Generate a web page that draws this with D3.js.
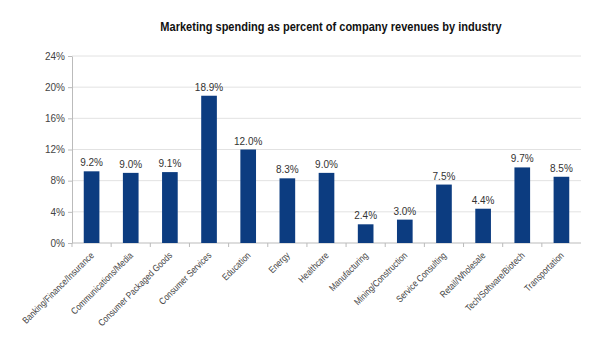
<!DOCTYPE html>
<html>
<head>
<meta charset="utf-8">
<script src="https://cdn.jsdelivr.net/npm/d3@7"></script>
<style>
  body { margin: 0; background: #fff; }
  text { font-family: "Liberation Sans", Arial, sans-serif; }
  .title { font-size: 12px; font-weight: bold; fill: #111; }
  .axis text { font-size: 10px; fill: #444; }
  .axis path, .axis line { stroke: #bbb; }
  .valLb { font-size: 10px; fill: #333; text-anchor: middle; }
</style>
</head>
<body>
<div id="main"></div>
<script>
var industries = ["Banking/Finance/Insurance", "Communications/Media", "Consumer Packaged Goods",
    "Consumer Services", "Education", "Energy", "Healthcare", "Manufacturing",
    "Mining/Construction", "Service Consulting", "Retail/Wholesale",
    "Tech/Software/Biotech", "Transportation"];
var spending = [9.2, 9.0, 9.1, 18.9, 12.0, 8.3, 9.0, 2.4, 3.0, 7.5, 4.4, 9.7, 8.5];
var yTicks = [0, 4, 8, 12, 16, 20, 24];

var ctx = {w: 600, h: 337, left: 72, right: 581, top: 56, bottom: 243};

var svgEl = d3.select("#main").append("svg")
    .attr("width", ctx.w)
    .attr("height", ctx.h);

var xScale = d3.scaleBand().domain(industries)
    .range([ctx.left, ctx.right])
    .paddingInner(0.6).paddingOuter(0.3);
var yScale = d3.scaleLinear().domain([0, 24])
    .range([ctx.bottom, ctx.top]);

// horizontal grid
svgEl.append("g").selectAll("line")
  .data(yTicks.slice(1))
  .enter().append("line")
  .attr("x1", ctx.left).attr("x2", ctx.right)
  .attr("y1", function(d){ return yScale(d); })
  .attr("y2", function(d){ return yScale(d); })
  .style("stroke", "#e2e2e2");

// y axis
svgEl.append("g").attr("class", "axis")
  .attr("transform", `translate(${ctx.left},0)`)
  .call(d3.axisLeft(yScale).tickValues(yTicks).tickSize(4).tickSizeOuter(0)
        .tickFormat(function(d){ return d + "%"; }));

// x axis: ticks sit between categories
var xAxisG = svgEl.append("g").attr("class", "axis")
  .attr("transform", `translate(0,${ctx.bottom})`);
xAxisG.append("line")
  .attr("x1", ctx.left).attr("x2", ctx.right)
  .style("stroke", "#bbb");
xAxisG.selectAll(".sep")
  .data(industries)
  .enter().append("line").attr("class", "sep")
  .attr("x1", function(d){ return xScale(d) - xScale.step() * 0.3; })
  .attr("x2", function(d){ return xScale(d) - xScale.step() * 0.3; })
  .attr("y1", 0).attr("y2", 4)
  .style("stroke", "#bbb");
// slanted category names, squeezed a little along the baseline
xAxisG.selectAll(".catLb")
  .data(industries)
  .enter().append("text").attr("class", "catLb")
  .attr("text-anchor", "end")
  .style("font-size", "9.5px")
  .attr("transform", function(d){
      var cx = xScale(d) + xScale.bandwidth() / 2 + 3;
      return `translate(${cx},13) rotate(-45) scale(0.84,1)`;
  })
  .text(function(d){ return d; });

// bars
svgEl.append("g").selectAll("rect")
  .data(spending)
  .enter().append("rect")
  .attr("x", function(d, i){ return xScale(industries[i]); })
  .attr("y", function(d){ return yScale(d); })
  .attr("width", xScale.bandwidth())
  .attr("height", function(d){ return ctx.bottom - yScale(d); })
  .attr("fill", "#0c3c80");

// value labels
svgEl.append("g").selectAll("text")
  .data(spending)
  .enter().append("text").attr("class", "valLb")
  .attr("x", function(d, i){ return xScale(industries[i]) + xScale.bandwidth() / 2; })
  .attr("y", function(d){ return yScale(d) - 5; })
  .text(function(d){ return d.toFixed(1) + "%"; });

// title
svgEl.append("text").attr("class", "title")
  .attr("text-anchor", "middle")
  .attr("transform", "translate(331,31) scale(0.92,1)")
  .text("Marketing spending as percent of company revenues by industry");
</script>
</body>
</html>
